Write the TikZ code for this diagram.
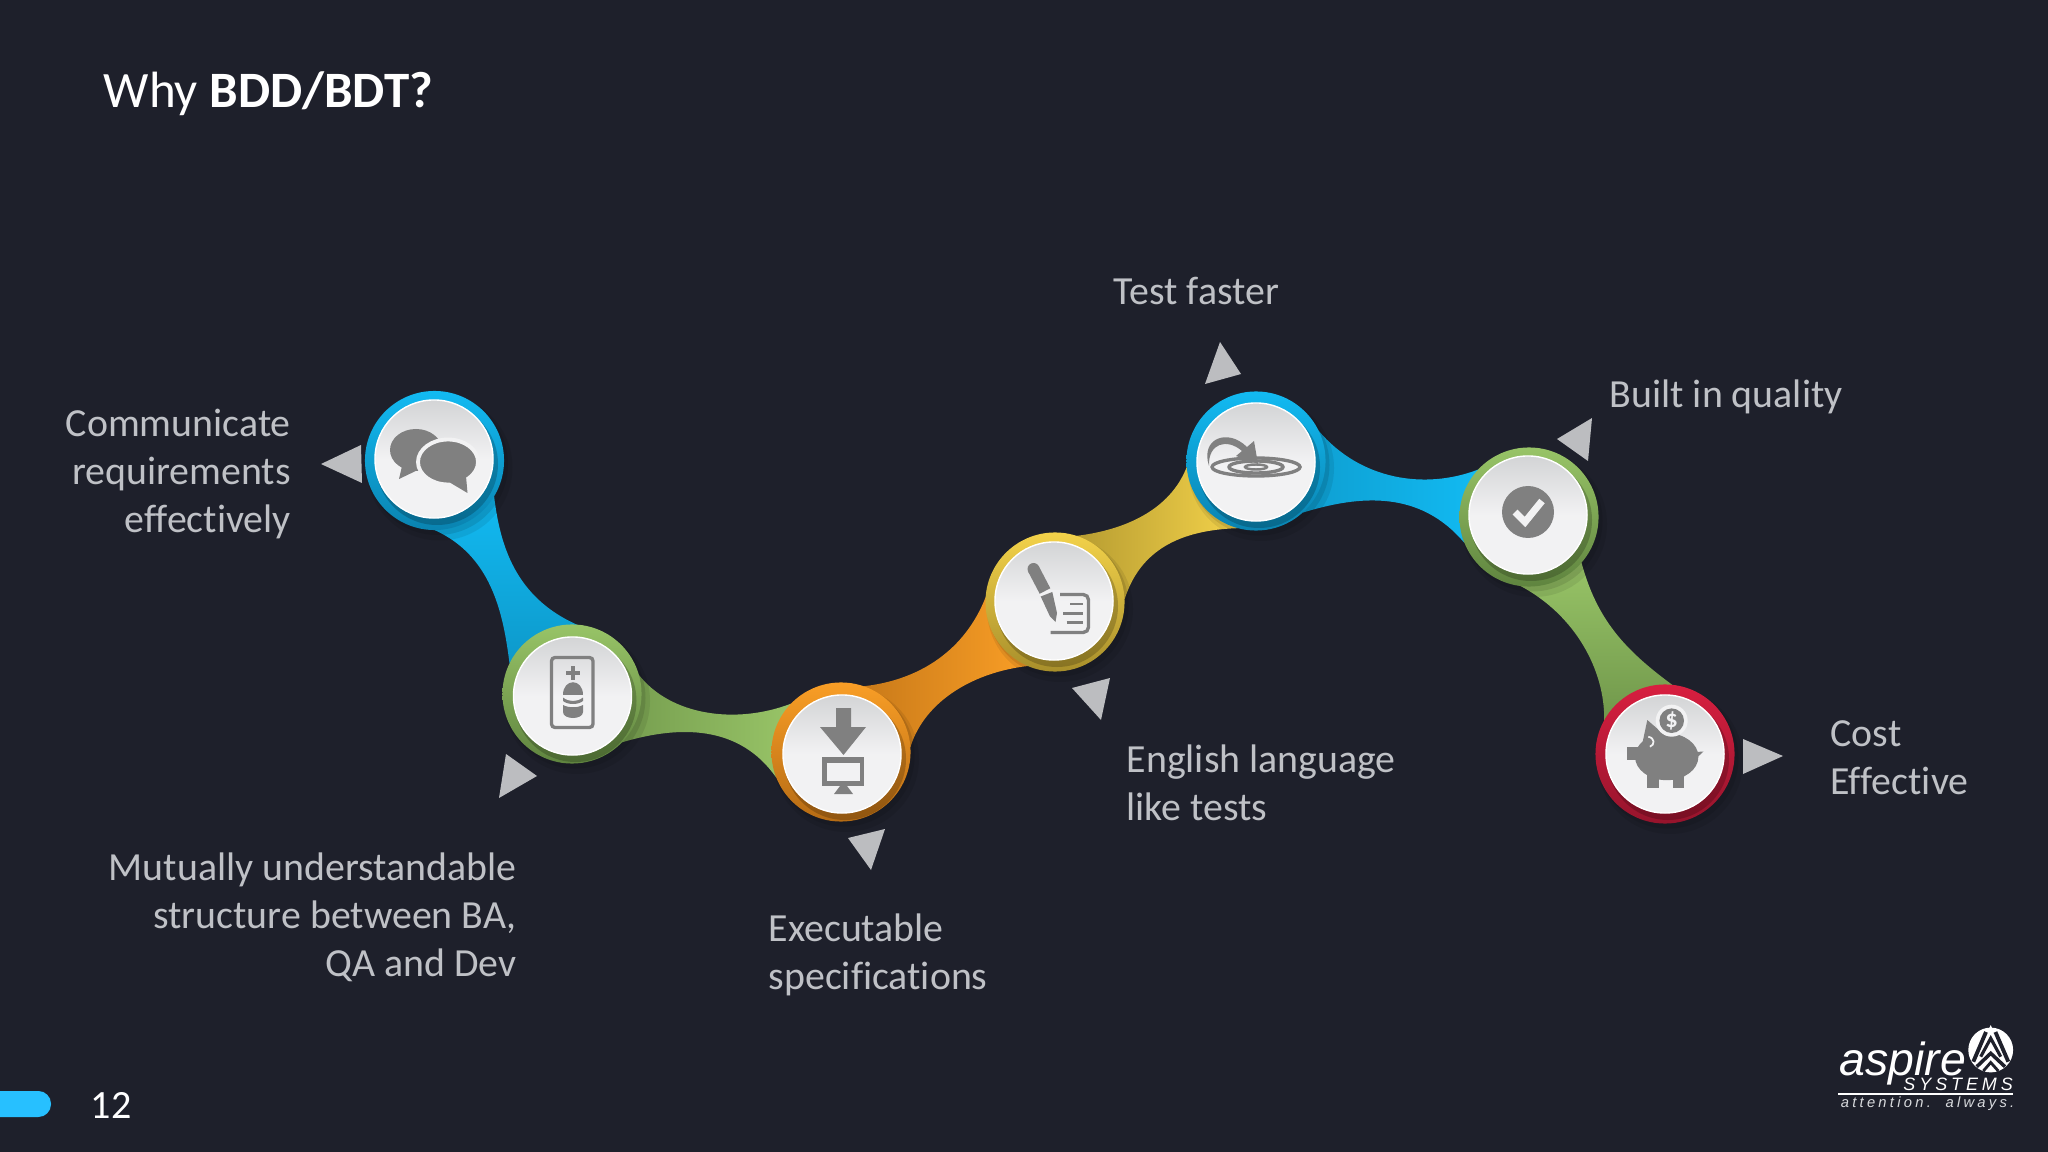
\documentclass[tikz,border=0pt]{standalone}
\usepackage{fontspec}
\usetikzlibrary{backgrounds}
\setmainfont[Ligatures=NoCommon]{Carlito}
\newfontfamily\logofont{Liberation Sans}
\newfontfamily\logowide[LetterSpace=22]{Liberation Sans}
\definecolor{slide}{HTML}{1E202B}
\definecolor{pilltint}{HTML}{27C0FF}
\definecolor{labelgray}{HTML}{BFC1C6}
\definecolor{icongray}{HTML}{808080}
\definecolor{disclight}{HTML}{F2F2F3}
\definecolor{discdark}{HTML}{D3D4D6}
\definecolor{pointertint}{HTML}{BCBDC0}
\definecolor{blueup}{HTML}{12BAF2}
\definecolor{bluedn}{HTML}{0A83B0}
\definecolor{greenup}{HTML}{98C467}
\definecolor{greendn}{HTML}{5F843F}
\definecolor{orangeup}{HTML}{F99E26}
\definecolor{orangedn}{HTML}{B56B14}
\definecolor{yellowup}{HTML}{F3D24A}
\definecolor{yellowdn}{HTML}{A88F2B}
\definecolor{redup}{HTML}{D81F40}
\definecolor{reddn}{HTML}{96142C}
\tikzset{
  ring/.style={circle,minimum size=1.39cm,inner sep=0pt,outer sep=0pt},
  disc/.style={circle,minimum size=1.18cm,inner sep=0pt,outer sep=0pt,draw=white,line width=0.4pt,
    top color=discdark,bottom color=disclight,middle color=disclight},
  pointer/.style={fill=pointertint},
  icon/.style={fill=icongray},
  iconline/.style={draw=icongray,line width=0.95pt},
  labeltext/.style={text=labelgray,inner sep=0pt,font=\fontsize{11.33}{13.55}\selectfont},
}
\begin{document}
\begin{tikzpicture}[x=0.01cm,y=-0.01cm]
  \useasboundingbox (0,0) rectangle (2048,1152);
  % stops of the chain
  \foreach \n/\sx/\sy/\dx/\dy/\tint/\dark in {
      1/434.5/460.5/434/459/blueup/bluedn,
      2/572/694/572.5/696/greenup/greendn,
      3/841/752/842/754/orangeup/orangedn,
      4/1055/602/1054/601/yellowup/yellowdn,
      5/1256/461/1256/462/blueup/bluedn,
      6/1529/517/1528/515/greenup/greendn,
      7/1665/754/1665/754/redup/reddn}{
    \node[ring,top color=\tint,bottom color=\dark] (ring\n) at (\sx,\sy) {};
    \begin{scope}
      \clip (\sx,\sy) circle[radius=69.5];
      \fill[black,opacity=0.2] (\dx+3,\dy+5) circle[radius=61];
    \end{scope}
    \node[disc] (disc\n) at (\dx,\dy) {};
  }
  % ribbons and shadows go under the stops
  \begin{scope}[on background layer]
    \fill[slide] (0,0) rectangle (2048,1152);
    \shade[top color=blueup,bottom color=bluedn!60!blueup]
      (ring1.-31) .. controls (500,545) and (515,597) .. (ring2.86) -- (ring2.154)
      .. controls (503,610) and (490,555) .. (ring1.-90) -- cycle;
    \shade[left color=greendn!60!greenup,right color=greenup]
      (ring2.16) .. controls (670,715) and (735,725) .. (ring3.136) -- (ring3.202)
      .. controls (740,725) and (680,725) .. (ring2.-44) -- cycle;
    \shade[left color=orangedn!70!orangeup,right color=orangeup]
      (ring3.71) .. controls (920,680) and (965,650) .. (ring4.176) -- (ring4.-113)
      .. controls (975,672) and (925,700) .. (ring3.4) -- cycle;
    \shade[left color=yellowdn!80!yellowup,right color=yellowup]
      (ring4.72) .. controls (1125,530) and (1170,510) .. (ring5.185) -- (ring5.-105)
      .. controls (1180,530) and (1140,550) .. (ring4.2) -- cycle;
    \shade[left color=bluedn!50!blueup,right color=blueup]
      (ring5.26) .. controls (1360,480) and (1425,490) .. (ring6.137) -- (ring6.-158)
      .. controls (1420,490) and (1360,495) .. (ring5.-48) -- cycle;
    \shade[top color=greenup,bottom color=greendn!70!greenup]
      (ring6.-41) .. controls (1597,620) and (1625,650) .. (ring7.84) -- (ring7.151)
      .. controls (1605,670) and (1575,615) .. (ring6.-97) -- cycle;
    \foreach \n in {1,...,7}{
      \fill[black,opacity=0.08] ([shift={(5,7)}]ring\n.center) circle[radius=73];
      \fill[black,opacity=0.1] ([shift={(3,4)}]ring\n.center) circle[radius=70.5];
    }
  \end{scope}
  % pointers
  \fill[pointer] (321,464) -- (361,445) -- (362,483) -- cycle;
  \fill[pointer] (506,754) -- (537,776) -- (499,798) -- cycle;
  \fill[pointer] (848,838) -- (885,829) -- (871,870) -- cycle;
  \fill[pointer] (1072,688) -- (1110,678) -- (1101,720) -- cycle;
  \fill[pointer] (1220,342) -- (1241,374) -- (1205,384) -- cycle;
  \fill[pointer] (1557,439) -- (1592,418) -- (1588,461) -- cycle;
  \fill[pointer] (1743,739) -- (1783,756) -- (1743,774) -- cycle;
  % icon 1, speech bubbles
  \fill[icon] (416,450) ellipse[x radius=26,y radius=21];
  \fill[icon] (403,462) -- (399,479) -- (422,468) -- cycle;
  \fill[icon,draw=disclight,line width=1.1pt] (448,462) ellipse[x radius=30,y radius=22.5];
  \fill[icon] (449,482) -- (467.5,493) -- (466,476) -- cycle;
  % icon 2, panel with cylinder
  \draw[iconline,rounded corners=1pt] (551.5,657.5) rectangle (593,727.5);
  \fill[icon] (570.5,666) rectangle (575,680);
  \fill[icon] (566,670.8) rectangle (580,675.2);
  \fill[icon] (563,695) .. controls (563,678) and (583,678) .. (583,695) -- cycle;
  \fill[icon] (563,697.5) .. controls (568,702) and (578,702) .. (583,697.5) -- (583,701)
    .. controls (578,705) and (568,705) .. (563,701) -- cycle;
  \fill[icon] (563,705) .. controls (568,708) and (578,708) .. (583,705) -- (583,712)
    .. controls (583,720) and (563,720) .. (563,712) -- cycle;
  % icon 3, arrow to monitor
  \fill[icon] (836,708) -- (851,708) -- (851,727) -- (866,727) -- (843.5,755) -- (820,727) -- (836,727) -- cycle;
  \fill[icon] (822,757) rectangle (864,786);
  \fill[disclight] (827,763) rectangle (860,781);
  \fill[icon] (840,786) -- (847,786) -- (853,794) -- (834,794) -- cycle;
  % icon 4, pen on a sheet
  \draw[iconline,rounded corners=1.5pt] (1055,594.5) -- (1088.5,594.5) -- (1088.5,632.5) -- (1050.5,632.5);
  \draw[iconline,line width=0.75pt] (1070,604) -- (1082.7,604) (1063.3,613.7) -- (1082.7,613.7) (1066.7,622.3) -- (1082.7,622.3);
  \fill[disclight] (1040,590) rectangle (1060,625);
  \fill[icon] (1033.5,569) circle[radius=6];
  \draw[line width=3.4pt,icongray] (1033.5,569) -- (1045,591);
  \fill[icon] (1040.7,596.5) -- (1052.3,592) -- (1057,613) -- (1055.5,622) -- (1050,616.5) -- cycle;
  % icon 5, target with arc
  \draw[iconline] (1256,467) ellipse[x radius=44,y radius=9];
  \draw[iconline] (1256,467) ellipse[x radius=27,y radius=6];
  \draw[iconline,line width=0.7pt] (1256,467) ellipse[x radius=11,y radius=2.5];
  \fill[icon] (1209,466) .. controls (1200,438) and (1228,428) .. (1247,447) -- (1254,441) -- (1258,464)
    -- (1236,456) -- (1242,451) .. controls (1227,438) and (1208,443) .. cycle;
  % icon 6, check mark
  \fill[icon] (1528,512) circle[radius=26];
  \draw[disclight,line width=2pt] (1515,512) -- (1525,522) -- (1542,501);
  % icon 7, piggy bank
  \fill[icon] (1666.7,756.7) ellipse[x radius=31.7,y radius=23.5];
  \fill[icon] (1627.3,746.7) rectangle (1640,760);
  \fill[icon] (1647.3,720) -- (1642,745) -- (1668,738) -- cycle;
  \fill[icon] (1647.3,772) rectangle (1659.3,788.3);
  \fill[icon] (1672.7,772) rectangle (1684,788.3);
  \fill[icon] (1696,752) -- (1703.5,751.5) -- (1696,758.5) -- cycle;
  \fill[disclight] (1671.7,720.7) circle[radius=16];
  \fill[icon] (1671.7,720.7) circle[radius=12.3];
  \node[text=disclight,inner sep=0pt,font=\fontsize{7}{8}\selectfont\bfseries] (coin) at (1671.7,720.7) {\$};
  \draw[disclight,line width=0.5pt] (1648.3,736.7) .. controls (1655,738) and (1655,745) .. (1650,746.7);
  % texts
  \node[anchor=base west,text=white,inner sep=0pt,font=\fontsize{14.5}{17}\selectfont] (title) at (103,108) {Why \textbf{BDD/BDT?}};
  \node[labeltext,anchor=north east,align=right] (lblcomm) at (291.5,408.6) {Communicate\\requirements\\effectively};
  \node[labeltext,anchor=north east,align=right] (lblstruct) at (517,852.6) {Mutually understandable\\structure between BA,\\QA and Dev};
  \node[labeltext,anchor=north west,align=left] (lblexec) at (768,913.6) {Executable\\specifications};
  \node[labeltext,anchor=north west,align=left] (lblengl) at (1126,744) {English language\\like tests};
  \node[labeltext,anchor=base west] (lblfast) at (1113,305) {Test faster};
  \node[labeltext,anchor=base west] (lblqual) at (1609,407.5) {Built in quality};
  \node[labeltext,anchor=north west,align=left] (lblcost) at (1830,720) {Cost\\Effective};
  % footer
  \fill[pilltint,rounded corners=3.6pt] (-30,1091) rectangle (51,1117);
  \node[anchor=base west,text=white,inner sep=0pt,font=\fontsize{11.4}{14}\selectfont] (pageno) at (90,1118) {12};
  % logo
  \fill[white] (1990.7,1050) circle[radius=22.4];
  \fill[white] (1990.7,1025) -- (1983,1042) -- (1998,1042) -- cycle;
  \draw[slide,line width=1.1pt] (1986,1032) -- (1973.3,1061.7);
  \draw[slide,line width=1.1pt] (1995.4,1032) -- (2008.3,1061.7);
  \draw[slide,line width=0.9pt] (1980.7,1056.7) -- (1990.7,1038.3) -- (2000.7,1056.7);
  \draw[slide,line width=1pt] (1976.7,1066.7) -- (1990.7,1053.3) -- (2005,1066.7);
  \draw[slide,line width=0.8pt] (1983.3,1071) -- (1990.7,1062.5) -- (1998.3,1071);
  \node[anchor=base west,text=white,inner sep=0pt,font=\logofont\itshape\fontsize{13.2}{16}\selectfont] (logoname) at (1839,1075) {aspire};
  \node[anchor=base east,text=white,inner sep=0pt,font=\logowide\itshape\fontsize{5.1}{6}\selectfont] (logosys) at (2013.5,1090.5) {SYSTEMS};
  \draw[white,line width=0.4pt] (1838,1094) -- (2013,1094);
  \node[anchor=base east,text=labelgray!60!white,inner sep=0pt,font=\logowide\itshape\fontsize{4.2}{5}\selectfont] (logotag) at (2015,1107) {attention.\ \ always.};
\end{tikzpicture}
\end{document}
